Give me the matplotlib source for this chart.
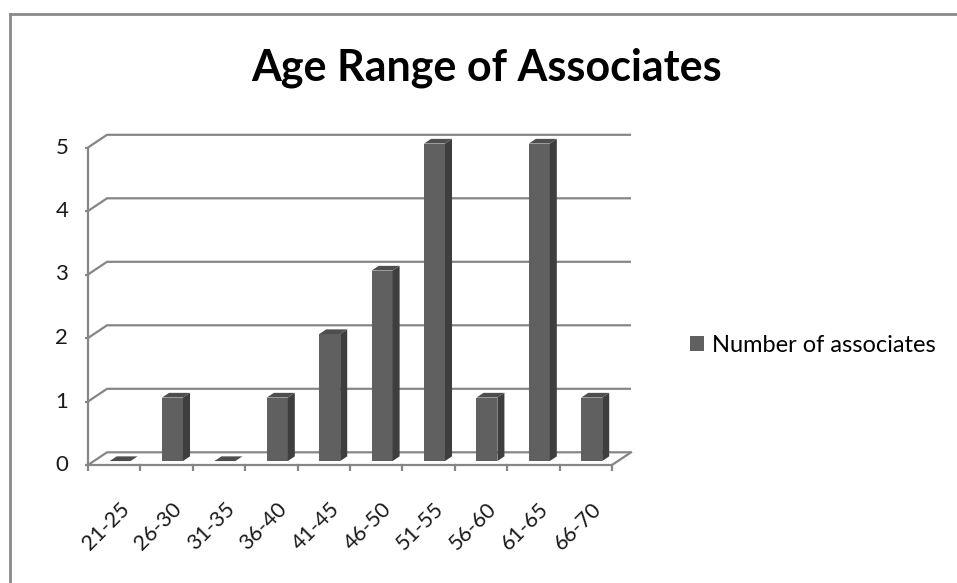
import matplotlib.pyplot as plt
from matplotlib.patches import Polygon, Patch
import numpy as np

plt.rcParams['font.family'] = ['Lato', 'DejaVu Sans']

# data
age_ranges = ['21-25', '26-30', '31-35', '36-40', '41-45',
              '46-50', '51-55', '56-60', '61-65', '66-70']
associates = [0, 1, 0, 1, 2, 3, 5, 1, 5, 1]
y_ticks = [0, 1, 2, 3, 4, 5]

# 3D look (in data units)
DX, DY = 0.363, 0.2          # depth offset of back wall
BAR_W = 0.4
BAR_F0, BAR_F1 = 0.31, 0.68  # bar depth range (fraction of full depth)

GRID = '#868686'
FRONT = '#606060'
SIDE = '#3e3e3e'
TOP = '#4e4e4e'

fig = plt.figure(figsize=(9.57, 5.83), dpi=100)

# axes placed so that x 0..10 -> px 88..612 and y 0..5 -> px 465..147.5
x0, x1 = -0.05, 10.5
y0, y1 = -0.1, 5.35
px_x = lambda v: 88 + v * 52.4
px_y = lambda v: 465 - v * 63.5
W, H = 957, 583
ax = fig.add_axes([px_x(x0) / W, (H - px_y(y0)) / H,
                   (px_x(x1) - px_x(x0)) / W, (px_y(y0) - px_y(y1)) / H])
ax.set_xlim(x0, x1)
ax.set_ylim(y0, y1)
ax.axis('off')

n = len(age_ranges)

# back wall gridlines and left diagonals
for t in y_ticks:
    ax.plot([0, DX, n + DX], [t, t + DY, t + DY], color=GRID, lw=1.6,
            solid_capstyle='butt', zorder=1)
    ax.plot([-0.11, 0], [t, t], color=GRID, lw=1.6, zorder=1)
# floor
ax.plot([0, n, n + DX], [0, 0, DY], color=GRID, lw=1.6, zorder=1)
ax.plot([0, 0], [0, max(y_ticks)], color=GRID, lw=1.6, zorder=1)
for i in range(n + 1):
    ax.plot([i, i], [0, -0.13], color=GRID, lw=1.6, zorder=1)

# bars
for i, v in enumerate(associates):
    l = i + 0.5 - BAR_W / 2 + BAR_F0 * DX
    r = l + BAR_W
    b = BAR_F0 * DY
    ddx = (BAR_F1 - BAR_F0) * DX
    ddy = (BAR_F1 - BAR_F0) * DY
    top = b + v
    front = [(l, b), (r, b), (r, top), (l, top)]
    side = [(r, b), (r + ddx, b + ddy), (r + ddx, top + ddy), (r, top)]
    topf = [(l, top), (r, top), (r + ddx, top + ddy), (l + ddx, top + ddy)]
    if v > 0:
        ax.add_patch(Polygon(front, closed=True, fc=FRONT, ec='none', zorder=3))
        ax.add_patch(Polygon(side, closed=True, fc=SIDE, ec='none', zorder=3))
    ax.add_patch(Polygon(topf, closed=True, fc=TOP, ec='none', zorder=3))

# tick labels
for t in y_ticks:
    ax.text(-0.5, t, str(t), ha='center', va='center', fontsize=16,
            color='#1a1a1a')
for i, lab in enumerate(age_ranges):
    ax.text(i + 0.6, -0.53, lab, rotation=45, rotation_mode='anchor',
            ha='right', va='top', fontsize=15.5, color='#1a1a1a')

# title
fig.text(487 / W, 1 - 68 / H, 'Age Range of Associates', ha='center',
         va='center', fontsize=31, fontweight='bold')

# legend
fig.legend(handles=[Patch(fc=FRONT, ec='none')], labels=['Number of associates'],
           loc='center left', bbox_to_anchor=(669 / W, 1 - 345 / H),
           frameon=False, fontsize=17, handlelength=0.6, handleheight=0.6,
           handletextpad=0.3)

# chart area border (left and top edges visible)
fig.add_artist(plt.Line2D([10 / W, 10 / W], [0, 1 - 14 / H], color='#8a8a8a',
                          lw=2, transform=fig.transFigure))
fig.add_artist(plt.Line2D([10 / W, 1], [1 - 14 / H, 1 - 14 / H], color='#8a8a8a',
                          lw=2, transform=fig.transFigure))

fig.savefig('out.png', dpi=100)
